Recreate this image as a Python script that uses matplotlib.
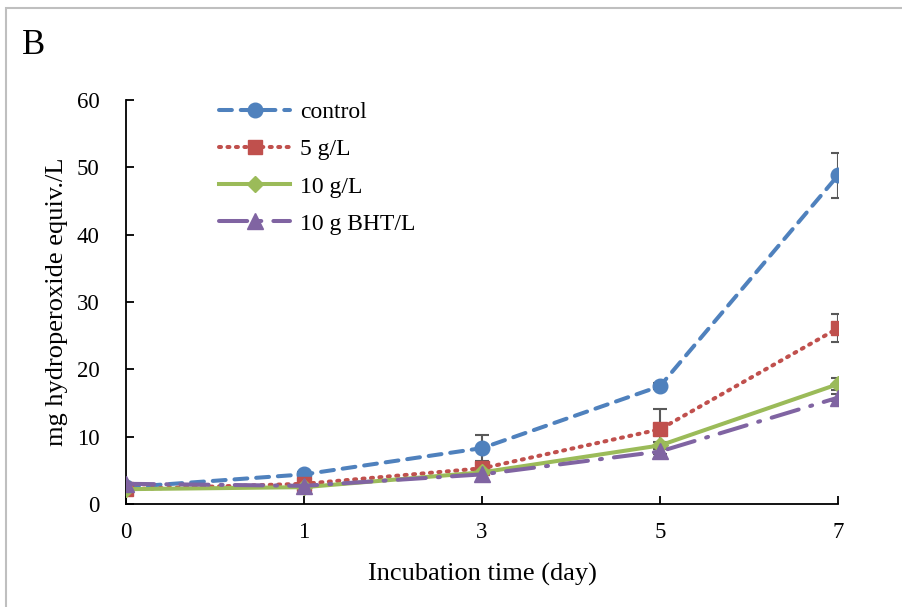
import numpy as np
import matplotlib.pyplot as plt
from matplotlib.patches import Rectangle

plt.rcParams['font.family'] = ['Liberation Serif', 'DejaVu Serif']

days = ["0", "1", "3", "5", "7"]
control = [2.5, 4.4, 8.3, 17.5, 48.8]
control_err = [0.0, 0.3, 1.9, 0.4, 3.3]
g5 = [2.2, 3.0, 5.3, 11.1, 26.1]
g5_err = [0.0, 0.3, 0.8, 3.0, 2.1]
g10 = [2.2, 2.5, 4.7, 8.7, 17.8]
g10_err = [0.0, 0.0, 0.3, 0.5, 0.9]
bht = [3.0, 2.7, 4.4, 7.8, 15.8]
bht_err = [0.0, 0.0, 0.0, 0.3, 0.5]

x = np.arange(len(days))

fig = plt.figure(figsize=(9.02, 6.07), dpi=100)
ax = fig.add_axes([126 / 902, 1 - 504 / 607, (838 - 126) / 902, (504 - 100) / 607])

# outer frame of the panel
fig.patches.append(Rectangle((6 / 902, -0.1), 1.2, 1 - 8 / 607 + 0.1,
                             transform=fig.transFigure, fill=False,
                             edgecolor='#bfbfbf', linewidth=1.5))

series = [
    ("control", control, control_err, '#4F81BD', 'o', 10.5, (0, (3.2, 2.2))),
    ("5 g/L", g5, g5_err, '#C0504D', 's', 10, (0, (0.5, 1.6))),
    ("10 g/L", g10, g10_err, '#9BBB59', 'D', 8, '-'),
    ("10 g BHT/L", bht, bht_err, '#8064A2', '^', 11.5, (0, (7, 3, 0.5, 3))),
]

for name, vals, err, col, mk, ms, ls in series:
    ax.errorbar(x, vals, yerr=err, fmt='none', ecolor='#595959',
                elinewidth=1.5, capsize=5, capthick=1.5, zorder=1)

for name, vals, err, col, mk, ms, ls in series:
    ax.plot(x, vals, color=col, linestyle=ls, linewidth=2.9,
            marker=mk, markersize=ms, markeredgecolor=col,
            dash_capstyle='round', label=name, zorder=3)

ax.set_xlim(0, 4)
ax.set_ylim(0, 60)
ax.set_xticks(x)
ax.set_xticklabels(days)
ax.set_yticks(np.arange(0, 61, 10))
ax.tick_params(direction='in', length=6, width=1.3, labelsize=16.5)
ax.tick_params(axis='x', pad=13)
ax.tick_params(axis='y', pad=19)
for s in ['top', 'right']:
    ax.spines[s].set_visible(False)
for s in ['left', 'bottom']:
    ax.spines[s].set_linewidth(1.3)

ax.set_xlabel("Incubation time (day)", fontsize=19, labelpad=14.5)
ax.set_ylabel("mg hydroperoxide equiv./L", fontsize=19, labelpad=6.5)

fig.text(22 / 902, 1 - 45 / 607, "B", fontsize=25, va='center', ha='left')

ax.legend(loc='upper left', bbox_to_anchor=(0.101, 1.048), frameon=False,
          fontsize=17, handlelength=3.0, labelspacing=0.66, handletextpad=0.42)

fig.savefig("out.png", dpi=100)
